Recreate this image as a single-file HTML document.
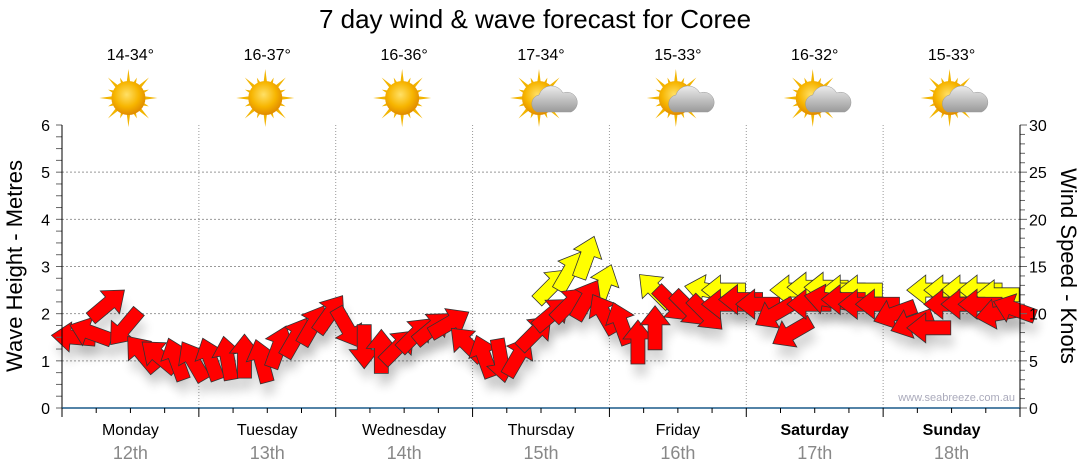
<!DOCTYPE html>
<html><head><meta charset="utf-8">
<style>
body{margin:0;background:#fff;}
svg{display:block;font-family:"Liberation Sans",sans-serif;}
</style></head>
<body>
<svg id="chart" width="1080" height="475" viewBox="0 0 1080 475">
<defs>
<filter id="sh" x="-50%" y="-50%" width="200%" height="200%"><feGaussianBlur stdDeviation="5"/></filter>
<radialGradient id="sun" cx="45%" cy="40%" r="60%"><stop offset="0" stop-color="#ffe066"/><stop offset="0.6" stop-color="#f7b500"/><stop offset="1" stop-color="#e08a00"/></radialGradient>
<linearGradient id="cloud" x1="0" y1="0" x2="0" y2="1"><stop offset="0" stop-color="#ececec"/><stop offset="1" stop-color="#9a9a9a"/></linearGradient>
</defs>
<text x="535" y="28" text-anchor="middle" font-size="26" fill="#000">7 day wind &amp; wave forecast for Coree</text>
<g id="grid"></g>
<g id="shadows"></g>
<g id="arrows"></g>
<g id="axes"></g>
<g id="icons"></g>
<text x="22" y="266" transform="rotate(-90 22 266)" text-anchor="middle" font-size="22">Wave Height - Metres</text>
<text x="1061" y="266" transform="rotate(90 1061 266)" text-anchor="middle" font-size="22">Wind Speed - Knots</text>
<text x="1015" y="401" text-anchor="end" font-size="11" fill="#aab">www.seabreeze.com.au</text>
</svg>
<script>
const days=["Monday","Tuesday","Wednesday","Thursday","Friday","Saturday","Sunday"];
const dates=["12th","13th","14th","15th","16th","17th","18th"];
const temps=["14-34°","16-37°","16-36°","17-34°","15-33°","16-32°","15-33°"];
const cloudy=[false,false,false,true,true,true,true];
const leftTicks=[0,1,2,3,4,5,6];
const rightTicks=[0,5,10,15,20,25,30];
const hours=[0,3,6,9,12,15,18,21,24,27,30,33,36,39,42,45,48,51,54,57,60,63,66,69,72,75,78,81,84,87,90,93,96,99,102,105,108,111,114,117,120,123,126,129,132,135,138,141,144,147,150,153,156,159,162,165];
const windKnots=[7.5,8,11,8.5,5.8,5.5,5.2,5,5.2,5.3,5.5,5.0,6.5,7.5,8.8,10,8.5,6.5,6,6.5,7.8,8.5,9,6.8,5.5,5,5.5,8,10,11,11.5,10,9,7,8.5,11,10.5,10,11,11.5,11,10,8,11,11.5,11.5,11,11,10,9,8.5,11,11,11,10,10.5];
const windDir=[185,200,320,130,230,220,250,240,250,260,270,255,290,300,300,305,60,90,270,315,315,320,330,225,250,80,300,315,320,315,300,240,250,270,270,45,45,45,180,180,180,150,150,180,190,180,180,180,160,160,180,180,180,180,170,200];
const gustKnots=[null,null,null,null,null,null,null,null,null,null,null,null,null,null,null,null,null,null,null,null,null,null,null,null,null,null,null,null,13,14.5,16,13,null,null,12.5,null,null,12.5,12.5,null,null,null,12.5,12.8,12.8,12.5,12.5,null,null,null,12.5,12.5,12.5,12.5,12,null];
const gustDir=[0,0,0,0,0,0,0,0,0,0,0,0,0,0,0,0,0,0,0,0,0,0,0,0,0,0,0,0,315,300,290,290,0,0,225,0,0,190,180,0,0,0,180,180,180,180,180,0,0,0,180,180,180,180,180,0];

const NS="http://www.w3.org/2000/svg";
const X0=62,X1=1020,Y0=408,Y1=125;
const dayW=(X1-X0)/7;
function xs(h){return X0+(h+2)*dayW/24;}
function yM(m){return Y0-(Y0-Y1)*m/6;}
function yK(k){return Y0-(Y0-Y1)*k/30;}
function mk(tag,attrs,parent){const e=document.createElementNS(NS,tag);for(const k in attrs)e.setAttribute(k,attrs[k]);parent.appendChild(e);return e;}
const grid=document.getElementById('grid'),axes=document.getElementById('axes'),arrows=document.getElementById('arrows'),shadows=document.getElementById('shadows'),icons=document.getElementById('icons');

leftTicks.forEach(v=>{
  if(v>0&&v<6){const l=mk('line',{x1:X0,x2:X1,y1:yM(v),y2:yM(v),stroke:'#999','stroke-dasharray':'2,2'},grid);
  
  }
  const t=mk('text',{x:50,y:yM(v)+6,'text-anchor':'end','font-size':16},axes);t.textContent=v;
  
  
});
for(let m=0;m<=6;m+=0.25){mk('line',{x1:X0-6,x2:X0,y1:yM(m),y2:yM(m),stroke:'#666'},axes);}
rightTicks.forEach(v=>{
  const t=mk('text',{x:1029,y:yK(v)+6,'font-size':16},axes);t.textContent=v;
  
  
});
for(let k=0;k<=30;k++){mk('line',{x1:X1,x2:X1+(k%5?5:7),y1:yK(k),y2:yK(k),stroke:'#666'},axes);}
mk('line',{x1:X0,x2:X0,y1:Y1,y2:Y0,stroke:'#000'},axes);
mk('line',{x1:X1,x2:X1,y1:Y1,y2:Y0,stroke:'#000'},axes);
mk('line',{x1:X0,x2:X1,y1:Y0,y2:Y0,stroke:'#1a5a8a','stroke-width':1.5},axes);
for(let d=0;d<=7;d++){
  const x=X0+d*dayW;
  if(d>0&&d<7){const g=mk('line',{x1:x,x2:x,y1:Y1,y2:Y0,stroke:'#999','stroke-dasharray':'1,2'},grid);
  
  }
  mk('line',{x1:x,x2:x,y1:Y0,y2:Y0+9,stroke:'#000'},axes);
  if(d<7)for(let q=1;q<4;q++)mk('line',{x1:x+q*dayW/4,x2:x+q*dayW/4,y1:Y0,y2:Y0+5,stroke:'#000'},axes);
}
days.forEach((d,i)=>{
  const cx=X0+(i+0.5)*dayW;
  const t=mk('text',{x:cx,y:435,'text-anchor':'middle','font-size':16,'font-weight':i>=5?'bold':'normal'},axes);t.textContent=d;
  
  
  const t2=mk('text',{x:cx,y:459,'text-anchor':'middle','font-size':18,fill:'#888'},axes);t2.textContent=dates[i];
  
  
  const t3=mk('text',{x:cx,y:60,'text-anchor':'middle','font-size':16},icons);t3.textContent=temps[i];
  
  
  const g=mk('g',{transform:'translate('+(cx-2)+',98)'},icons);
  
  
  for(let r=0;r<16;r++){const a=r*22.5*Math.PI/180,L=r%2?22:29;
    mk('path',{d:'M'+(Math.cos(a+0.14)*14)+','+(Math.sin(a+0.14)*14)+' L'+(Math.cos(a)*L)+','+(Math.sin(a)*L)+' L'+(Math.cos(a-0.14)*14)+','+(Math.sin(a-0.14)*14)+'Z',fill:'#f2b400'},g);}
  mk('circle',{cx:0,cy:0,r:17,fill:'url(#sun)'},g);
  if(cloudy[i]){
    mk('path',{d:'M-2,20 a9,9 0 0 1 2,-17 a13,13 0 0 1 24,-2 a9.5,9.5 0 0 1 8,19 Z',fill:'url(#cloud)',stroke:'#999','stroke-width':0.5,transform:'translate(0,-6)'},g);
  }
});
function arrow(parent,x,y,ang,fill,shadow){
  const p='M-22,-7 L3,-7 L3,-15 L22,0 L3,15 L3,7 L-22,7 Z';
  if(shadow){mk('path',{d:p,fill:'#000',opacity:0.16,filter:'url(#sh)',transform:'translate('+(x+3)+','+(y+12)+') rotate('+ang+')'},shadows);}
  return mk('path',{d:p,fill:fill,stroke:'#333','stroke-width':0.8,transform:'translate('+x+','+y+') rotate('+ang+')'},parent);
}
gustKnots.forEach((g,i)=>{
  if(g===null)return;
  const a=arrow(arrows,xs(hours[i]),yK(g),gustDir[i],'#ffff00',false);
  
  
});
windKnots.forEach((k,i)=>{
  const a=arrow(arrows,xs(hours[i]),yK(k),windDir[i],'#ff0000',true);
  
  
});
</script>
</body></html>
